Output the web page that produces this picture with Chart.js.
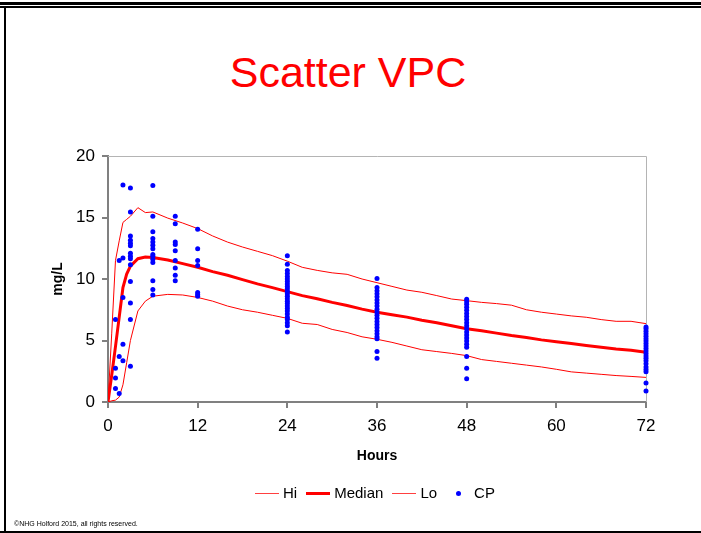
<!DOCTYPE html>
<html>
<head>
<meta charset="utf-8">
<script src="https://cdn.jsdelivr.net/npm/chart.js@4/dist/chart.umd.min.js"></script>
<style>
  html, body { margin: 0; padding: 0; background: #fff; }
  body { width: 701px; height: 533px; position: relative; overflow: hidden;
         font-family: 'Liberation Sans', Arial, sans-serif; }
  .rule { position: absolute; background: #000; }
  #title { position: absolute; left: 0; width: 696px; top: 47px; text-align: center;
           color: #ff0000; font-size: 43px; line-height: 50px; white-space: nowrap; }
  #chart { position: absolute; left: 0; top: 0; }
  #legend { position: absolute; left: 255px; top: 483px; display: flex; align-items: center;
            font-size: 15px; line-height: 20px; color: #000; white-space: nowrap; }
  #legend .item { display: flex; align-items: center; margin-right: 9px; }
  #legend .swatch { width: 24px; height: 20px; margin-right: 4px; position: relative; }
  #legend .swatch .line { position: absolute; left: 0; right: 0; top: 50%; }
  #legend .swatch .dot { position: absolute; left: 50%; top: 50%; border-radius: 50%; }
  #copy { position: absolute; left: 14px; top: 520px; font-size: 7px; line-height: 8px; color: #000; }
</style>
</head>
<body>
<div class="rule" style="left:0;top:2px;width:701px;height:3px"></div>
<div class="rule" style="left:0;top:6px;width:701px;height:2px"></div>
<div class="rule" style="left:4px;top:6px;width:2px;height:527px"></div>
<div class="rule" style="left:0;top:531px;width:701px;height:2px"></div>

<div id="title">Scatter VPC</div>
<canvas id="chart" width="701" height="533"></canvas>
<div id="legend"></div>
<div id="copy">©NHG Holford 2015, all rights reserved.</div>

<script>
// Time grid (hours) for the prediction-interval curves
const bandHours = [0, 0.5, 1, 1.5, 2, 2.5, 3, 4, 5, 6, 8, 10, 12,
  14, 16, 18, 20, 22, 24, 26, 28, 30, 32, 34, 36, 38, 40, 42, 44, 46, 48,
  50, 52, 54, 56, 58, 60, 62, 64, 66, 68, 70, 72];

// Upper percentile curve (mg/L)
const hiConc = [0, 5.6, 11.5, 13.1, 14.6, 14.85, 15.1, 15.8, 15.4, 15.45, 14.95, 14.55, 14.1,
  13.5, 13.0, 12.6, 12.25, 11.9, 11.45, 10.95, 10.7, 10.5, 10.38, 10.0, 9.7, 9.4, 9.1, 8.92, 8.65, 8.37, 8.24,
  8.1, 8.0, 7.87, 7.5, 7.3, 7.15, 7.0, 6.89, 6.7, 6.56, 6.56, 6.37];

// Median curve (mg/L)
const medianConc = [0, 2.2, 4.5, 6.9, 9.3, 10.4, 11.05, 11.65, 11.78, 11.75, 11.55, 11.25, 10.95,
  10.6, 10.3, 9.95, 9.6, 9.3, 8.97, 8.65, 8.4, 8.1, 7.85, 7.55, 7.3, 7.1, 6.9, 6.65, 6.45, 6.2, 5.95,
  5.8, 5.6, 5.4, 5.25, 5.05, 4.9, 4.75, 4.6, 4.45, 4.3, 4.2, 4.05];

// Lower percentile curve (mg/L)
const loConc = [0, 0.1, 0.15, 0.4, 1.4, 3.2, 5.0, 7.4, 8.2, 8.6, 8.75, 8.7, 8.5,
  8.2, 7.8, 7.5, 7.3, 7.05, 6.8, 6.4, 6.3, 5.9, 5.65, 5.3, 5.1, 4.85, 4.55, 4.25, 4.1, 3.95, 3.77,
  3.45, 3.3, 3.15, 3.0, 2.85, 2.66, 2.45, 2.35, 2.25, 2.15, 2.08, 2.0];

// Observed concentrations (CP), grouped by sampling time
const cpHours = [1, 1.5, 2, 3, 6, 9, 12, 24, 36, 48, 72];
const cpConc = [
  [6.7, 2.75, 1.95, 1.1],
  [11.5, 3.7, 0.7],
  [17.65, 11.7, 8.5, 4.7, 3.35],
  [17.4, 15.45, 13.5, 13.15, 12.9, 12.7, 12.1, 11.85, 11.65, 11.15, 9.8, 8.05, 6.7, 2.9],
  [17.6, 15.1, 13.85, 13.3, 13.0, 12.75, 12.45, 12.0, 11.85, 11.6, 11.35, 9.85, 9.15, 8.7],
  [15.1, 14.5, 13.0, 12.8, 12.3, 11.5, 10.9, 10.3, 9.85],
  [14.05, 12.45, 11.5, 11.1, 8.9, 8.75, 8.6],
  [11.9, 11.2, 10.7, 10.45, 10.2, 10.0, 9.8, 9.6, 9.4, 9.2, 9.0, 8.8, 8.6, 8.4,
   8.2, 8.0, 7.8, 7.6, 7.4, 7.15, 6.9, 6.7, 6.45, 6.2, 5.7],
  [10.05, 9.3, 9.05, 8.8, 8.55, 8.3, 8.05, 7.8, 7.55, 7.3, 7.05, 6.8, 6.55,
   6.3, 6.05, 5.8, 5.55, 5.3, 5.15, 4.1, 3.55],
  [8.35, 8.15, 7.95, 7.7, 7.45, 7.2, 6.95, 6.7, 6.45, 6.2, 5.95, 5.7,
   5.45, 5.2, 4.95, 4.7, 4.45, 3.7, 2.75, 1.9],
  [6.1, 5.95, 5.75, 5.55, 5.35, 5.15, 4.95, 4.75, 4.55, 4.35, 4.15, 3.95,
   3.75, 3.55, 3.35, 3.1, 2.85, 2.65, 2.45, 1.55, 0.9]
];

// Axis ticks
const xTicks = [0, 12, 24, 36, 48, 60, 72];
const yTicks = [0, 5, 10, 15, 20];

const toXY = (xs, ys) => xs.map((x, i) => ({ x: x, y: ys[i] }));
const cpPoints = [];
cpHours.forEach((h, i) => cpConc[i].forEach(v => cpPoints.push({ x: h, y: v })));

const RED = '#ff0000';
const BLUE = '#0000ff';
const AXIS = '#808080';
const FONT = "'Liberation Sans', Arial, sans-serif";

const datasets = [
  { label: 'Hi', data: toXY(bandHours, hiConc), showLine: true, borderColor: RED,
    borderWidth: 1, pointRadius: 0, fill: false, order: 2 },
  { label: 'Median', data: toXY(bandHours, medianConc), showLine: true, borderColor: RED,
    borderWidth: 3, pointRadius: 0, fill: false, order: 1 },
  { label: 'Lo', data: toXY(bandHours, loConc), showLine: true, borderColor: RED,
    borderWidth: 1, pointRadius: 0, fill: false, order: 2 },
  { label: 'CP', data: cpPoints, showLine: false, backgroundColor: BLUE, borderColor: BLUE,
    borderWidth: 0, pointRadius: 2.5, order: 0, clip: false }
];

// Light frame along the top and right of the plotting area
const plotFrame = {
  id: 'plotFrame',
  beforeDatasetsDraw(chart) {
    const { ctx, chartArea: a } = chart;
    ctx.save();
    ctx.strokeStyle = '#b4b4b4';
    ctx.lineWidth = 1;
    ctx.beginPath();
    ctx.moveTo(a.left, a.top + 0.5);
    ctx.lineTo(a.right + 0.5, a.top + 0.5);
    ctx.lineTo(a.right + 0.5, a.bottom);
    ctx.stroke();
    ctx.restore();
  }
};

new Chart(document.getElementById('chart'), {
  type: 'scatter',
  data: { datasets: datasets },
  plugins: [plotFrame],
  options: {
    responsive: false,
    animation: false,
    layout: { padding: { left: 48, right: 55, top: 156, bottom: 61 } },
    plugins: { legend: { display: false }, title: { display: false }, tooltip: { enabled: false } },
    scales: {
      x: {
        type: 'linear', min: 0, max: 72,
        afterFit: s => { s.height = 70; },
        afterBuildTicks: s => { s.ticks = xTicks.map(v => ({ value: v })); },
        ticks: { color: '#000', font: { family: FONT, size: 17 }, padding: 8, maxRotation: 0 },
        grid: { drawOnChartArea: false, drawTicks: true, tickLength: 6, color: AXIS, lineWidth: 2 },
        border: { display: true, color: AXIS, width: 2 },
        title: { display: true, text: 'Hours', color: '#000',
                 font: { family: FONT, size: 14, weight: 'bold' }, padding: { top: 0, bottom: 7 } }
      },
      y: {
        type: 'linear', min: 0, max: 20,
        afterFit: s => { s.width = 60; },
        afterBuildTicks: s => { s.ticks = yTicks.map(v => ({ value: v })); },
        ticks: { color: '#000', font: { family: FONT, size: 17 }, padding: 7 },
        grid: { drawOnChartArea: false, drawTicks: true, tickLength: 6, color: AXIS, lineWidth: 2 },
        border: { display: true, color: AXIS, width: 2 },
        title: { display: true, text: 'mg/L', color: '#000',
                 font: { family: FONT, size: 14, weight: 'bold' }, padding: { top: 2, bottom: 0 } }
      }
    }
  }
});

// Legend row built from the datasets
const legend = document.getElementById('legend');
datasets.forEach(ds => {
  const item = document.createElement('div');
  item.className = 'item';
  const sw = document.createElement('div');
  sw.className = 'swatch';
  if (ds.showLine) {
    const ln = document.createElement('span');
    ln.className = 'line';
    ln.style.height = ds.borderWidth + 'px';
    ln.style.marginTop = (-ds.borderWidth / 2) + 'px';
    ln.style.background = ds.borderColor;
    ln.style.opacity = ds.borderWidth > 1 ? '1' : '0.75';
    sw.appendChild(ln);
  } else {
    const d = document.createElement('span');
    d.className = 'dot';
    const r = ds.pointRadius * 2;
    d.style.width = r + 'px';
    d.style.height = r + 'px';
    d.style.marginLeft = (-r / 2) + 'px';
    d.style.marginTop = (-r / 2) + 'px';
    d.style.background = ds.backgroundColor;
    sw.appendChild(d);
  }
  const tx = document.createElement('span');
  tx.textContent = ds.label;
  item.appendChild(sw);
  item.appendChild(tx);
  legend.appendChild(item);
});
</script>
</body>
</html>
